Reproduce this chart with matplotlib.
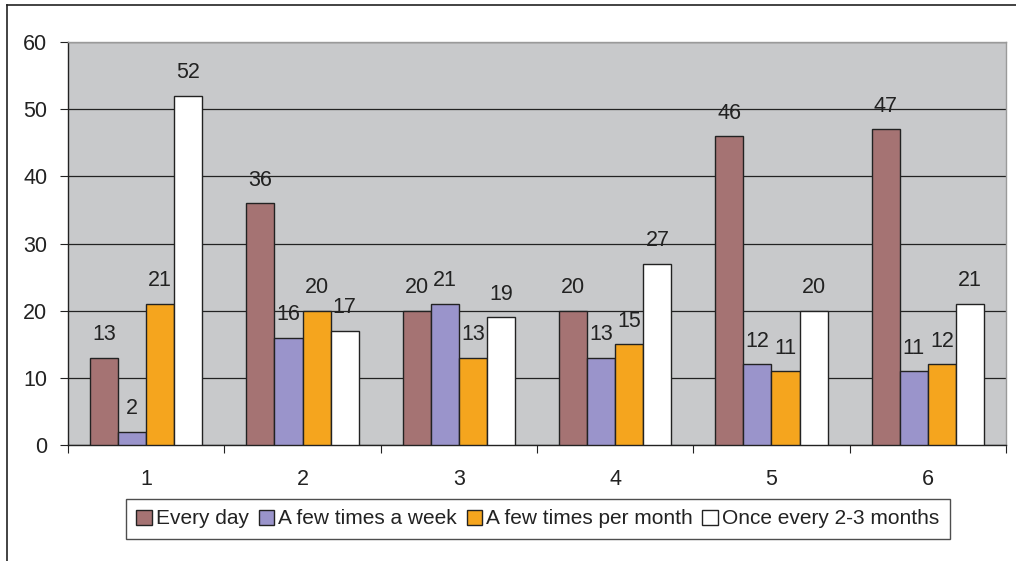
import matplotlib.pyplot as plt
from matplotlib.lines import Line2D
from numpy import arange

plt.rcParams['font.family'] = ['Liberation Sans', 'DejaVu Sans']

groups = ["1", "2", "3", "4", "5", "6"]
series = ["Every day", "A few times a week", "A few times per month", "Once every 2-3 months"]
every_day = [13, 36, 20, 20, 46, 47]
few_week = [2, 16, 21, 13, 12, 11]
few_month = [21, 20, 13, 15, 11, 12]
every_2_3 = [52, 17, 19, 27, 20, 21]
values = [every_day, few_week, few_month, every_2_3]
colors = ["#A57373", "#9A94CB", "#F5A51E", "#FFFFFF"]

fs = 15.5

fig = plt.figure(figsize=(10.16, 5.61), dpi=100)
ax = fig.add_axes([68/1016, 1-445/561, (1006-68)/1016, (445-42)/561])
ax.set_facecolor("#C8C9CB")

x = arange(len(groups))
w = 0.18
for i, (vals, c, name) in enumerate(zip(values, colors, series)):
    pos = x + (i - 1.5)*w
    ax.bar(pos, vals, w, color=c, edgecolor="#222222", linewidth=1.0, label=name, zorder=3)
    for p, v in zip(pos, vals):
        ax.annotate(str(v), (p, v), xytext=(0, 9), textcoords="offset points",
                    ha="center", va="bottom", fontsize=fs, color="#222222")

ax.set_xlim(-0.5, len(groups) - 0.5)
ax.set_ylim(0, 60)
ax.set_yticks(range(0, 61, 10))
ax.yaxis.grid(True, color="#222222", linewidth=0.9, zorder=1)
ax.set_axisbelow(True)

# group boundaries carry tick marks, labels sit at centres
ax.set_xticks(arange(-0.5, len(groups), 1.0))
ax.set_xticklabels([])
ax.set_xticks(x, minor=True)
ax.set_xticklabels(groups, minor=True)
ax.tick_params(axis="x", which="minor", length=0, pad=17, labelsize=fs, labelcolor="#222222")
ax.tick_params(axis="x", which="major", length=6, direction="out", color="#222222")
ax.tick_params(axis="y", length=6, direction="out", labelsize=fs, labelcolor="#222222",
               color="#222222", pad=9)

for s in ["left", "bottom"]:
    ax.spines[s].set_color("#222222")
    ax.spines[s].set_linewidth(1.0)
for s in ["top", "right"]:
    ax.spines[s].set_color("#9A9A9A")
    ax.spines[s].set_linewidth(1.0)

leg = fig.legend(loc="center", bbox_to_anchor=(538/1016, 1-519/561), ncol=4, fontsize=15,
                 frameon=True, fancybox=False, edgecolor="#222222", handlelength=0.75,
                 handleheight=0.75, handletextpad=0.2, columnspacing=0.45, borderpad=0.5)
leg.get_frame().set_linewidth(1.0)
for h in leg.legend_handles:
    h.set_edgecolor("#222222")
for t in leg.get_texts():
    t.set_color("#222222")

# outer chart frame
fig.add_artist(Line2D([7/1016, 1], [1-5/561, 1-5/561], color="#222222", linewidth=1.2))
fig.add_artist(Line2D([7/1016, 7/1016], [0, 1-5/561], color="#222222", linewidth=1.2))

fig.savefig("out.png", dpi=100)
